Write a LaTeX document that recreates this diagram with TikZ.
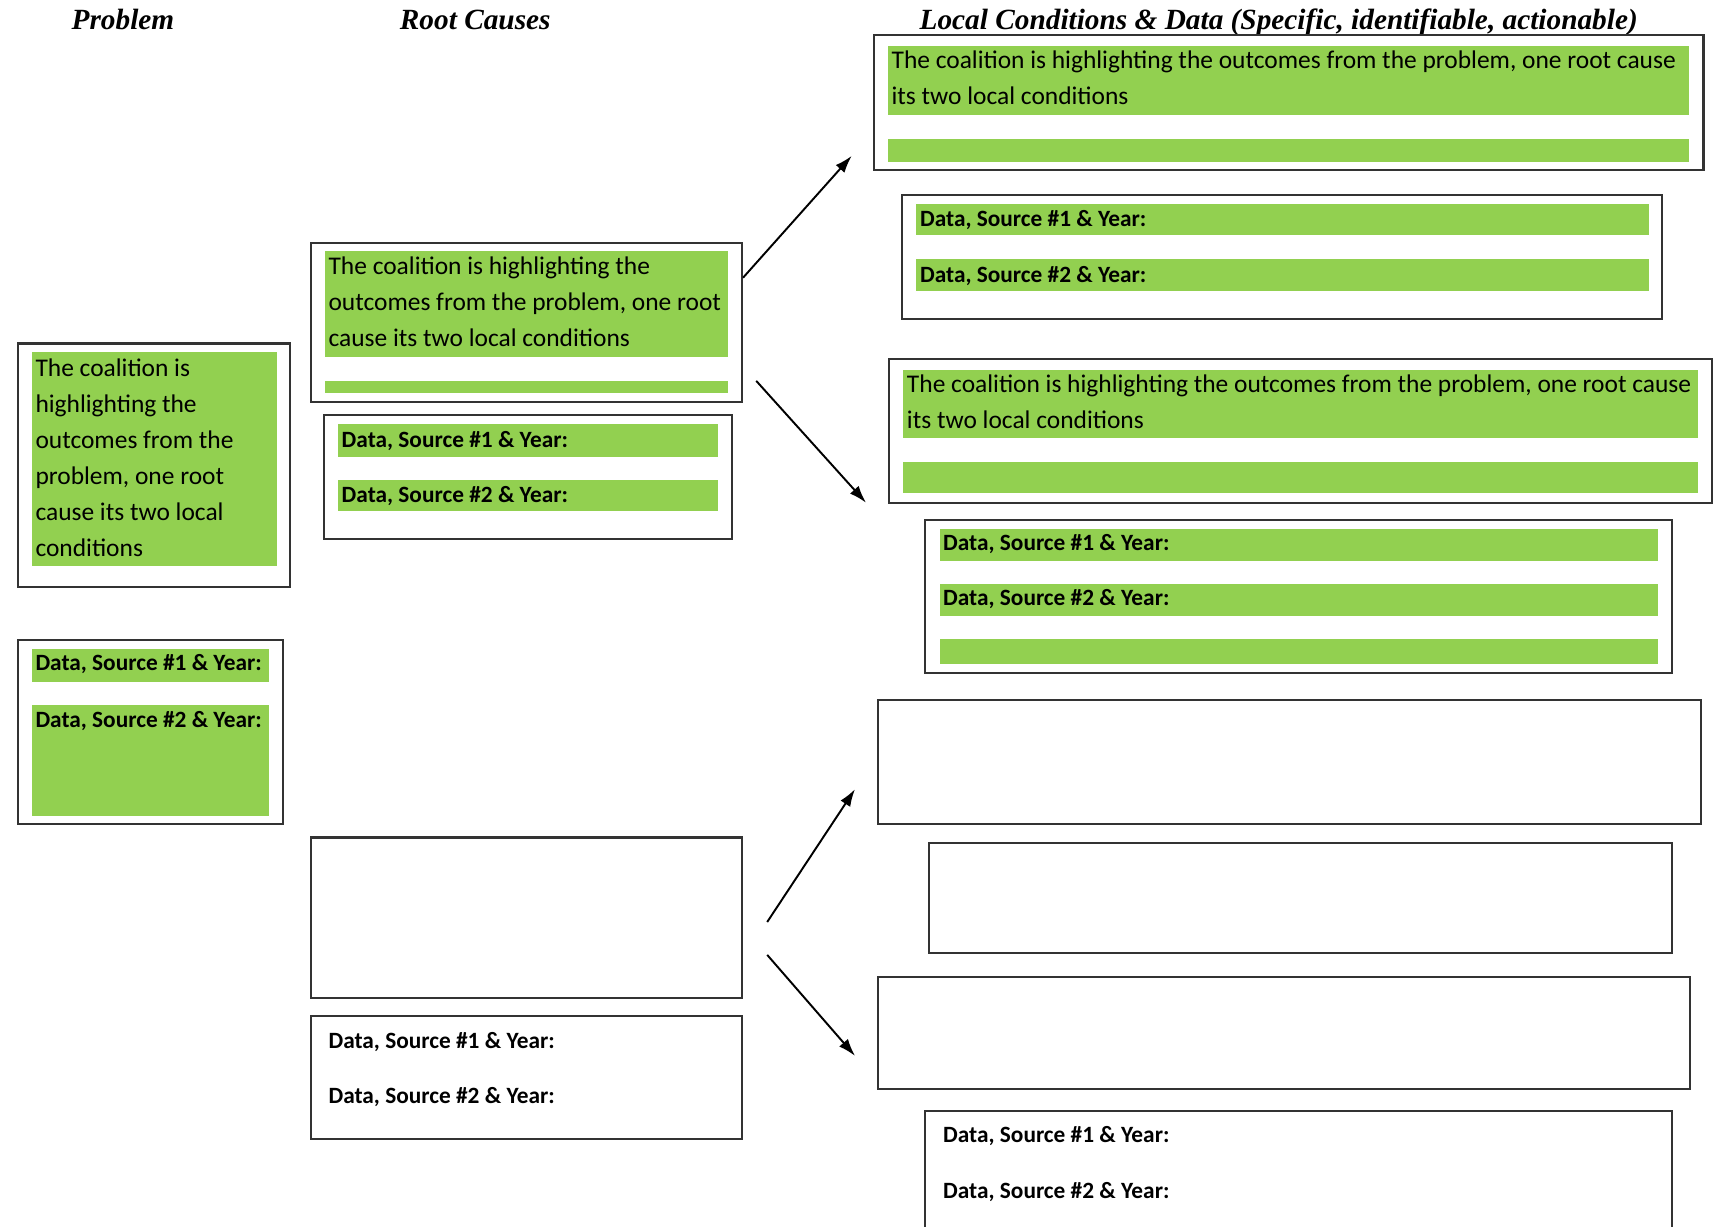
\documentclass[tikz,border=0pt]{standalone}
\usepackage{fontspec}
\setmainfont{Carlito}
\newfontfamily\hdfont{Liberation Serif}
\usetikzlibrary{arrows.meta,fit}
\definecolor{gfill}{HTML}{92D050}
\tikzset{
  frame/.style={draw=black!80, line width=1.1pt, inner sep=0pt, fill=white},
  gbar/.style={fill=gfill, draw=none, inner sep=0pt},
  btxt/.style={anchor=north west, inner sep=0pt, align=left, font=\fontsize{13.2}{18.6}\selectfont},
  dtxt/.style={anchor=base west, inner sep=0pt, font=\bfseries\fontsize{12.1}{14}\selectfont},
  hdr/.style={anchor=base, inner sep=0pt, font=\hdfont\bfseries\itshape\fontsize{15.2}{17}\selectfont},
  arr/.style={-{Latex[length=9pt,width=6pt]}, line width=1pt},
}
\newcommand\rbox[6]{\node[#1, fit={(#3,#4) (#5,#6)}] (#2) {};}
\begin{document}
\begin{tikzpicture}[x=0.02cm,y=-0.02cm]
\useasboundingbox[fill=white] (0,0) rectangle (1568,1117);
% headers
\node[hdr] (h1) at (112,27) {Problem};
\node[hdr] (h2) at (433,27) {Root Causes};
\node[hdr] (h3) at (1165,27) {Local Conditions \& Data (Specific, identifiable, actionable)};
% problem column
\rbox{frame}{pb}{16}{313}{264}{535}
\rbox{gbar}{pbg}{29}{321}{252}{516}
\node[btxt] (pbt) at (32,327) {The coalition is\\highlighting the\\outcomes from the\\problem, one root\\cause its two local\\conditions};
\rbox{frame}{pd}{16}{583}{258}{751}
\rbox{gbar}{pdg1}{29}{591}{245}{621}
\rbox{gbar}{pdg2}{29}{642}{245}{743}
\node[dtxt] (pd1) at (32,611) {Data, Source \#1 \& Year:};
\node[dtxt] (pd2) at (32,663) {Data, Source \#2 \& Year:};
% root causes column
\rbox{frame}{rb1}{283}{221}{676}{366}
\rbox{gbar}{rb1g}{296}{229}{663}{325}
\rbox{gbar}{rb1h}{296}{347}{663}{358}
\node[btxt] (rb1t) at (299,234) {The coalition is highlighting the\\outcomes from the problem, one root\\cause its two local conditions};
\rbox{frame}{rd1}{295}{378}{667}{491}
\rbox{gbar}{rd1g1}{308}{386}{654}{416}
\rbox{gbar}{rd1g2}{308}{437}{654}{466}
\node[dtxt] (rd1a) at (311,408) {Data, Source \#1 \& Year:};
\node[dtxt] (rd1b) at (311,458) {Data, Source \#2 \& Year:};
\rbox{frame}{rb2}{283}{763}{676}{909}
\rbox{frame}{rd2}{283}{926}{676}{1038}
\node[dtxt] (rd2a) at (299,955) {Data, Source \#1 \& Year:};
\node[dtxt] (rd2b) at (299,1005) {Data, Source \#2 \& Year:};
% local conditions column
\rbox{frame}{lb1}{796}{32}{1552}{155}
\rbox{gbar}{lb1g}{809}{42}{1539}{105}
\rbox{gbar}{lb1h}{809}{127}{1539}{148}
\node[btxt] (lb1t) at (812,46) {The coalition is highlighting the outcomes from the problem, one root cause\\its two local conditions};
\rbox{frame}{ld1}{822}{178}{1514}{291}
\rbox{gbar}{ld1g1}{835}{186}{1502}{214}
\rbox{gbar}{ld1g2}{835}{236}{1502}{265}
\node[dtxt] (ld1a) at (838,206) {Data, Source \#1 \& Year:};
\node[dtxt] (ld1b) at (838,257) {Data, Source \#2 \& Year:};
\rbox{frame}{lb2}{810}{327}{1560}{458}
\rbox{gbar}{lb2g}{823}{337}{1547}{399}
\rbox{gbar}{lb2h}{823}{421}{1547}{449}
\node[btxt] (lb2t) at (826,341) {The coalition is highlighting the outcomes from the problem, one root cause\\its two local conditions};
\rbox{frame}{ld2}{843}{474}{1523}{613}
\rbox{gbar}{ld2g1}{856}{482}{1511}{511}
\rbox{gbar}{ld2g2}{856}{532}{1511}{561}
\rbox{gbar}{ld2g3}{856}{582}{1511}{605}
\node[dtxt] (ld2a) at (859,502) {Data, Source \#1 \& Year:};
\node[dtxt] (ld2b) at (859,552) {Data, Source \#2 \& Year:};
\rbox{frame}{lb3}{800}{638}{1550}{751}
\rbox{frame}{lb4}{846}{768}{1523}{868}
\rbox{frame}{lb5}{800}{890}{1540}{992}
\rbox{frame}{ld5}{843}{1012}{1523}{1135}
\node[dtxt] (ld5a) at (859,1041) {Data, Source \#1 \& Year:};
\node[dtxt] (ld5b) at (859,1092) {Data, Source \#2 \& Year:};
% arrows
\coordinate (a1s) at (677,253); \coordinate (a1e) at (776,142);
\coordinate (a2s) at (689,347); \coordinate (a2e) at (789,458);
\coordinate (a3s) at (699,840); \coordinate (a3e) at (779,719);
\coordinate (a4s) at (699,870); \coordinate (a4e) at (779,962);
\draw[arr] (a1s) -- (a1e);
\draw[arr] (a2s) -- (a2e);
\draw[arr] (a3s) -- (a3e);
\draw[arr] (a4s) -- (a4e);
\end{tikzpicture}
\end{document}
